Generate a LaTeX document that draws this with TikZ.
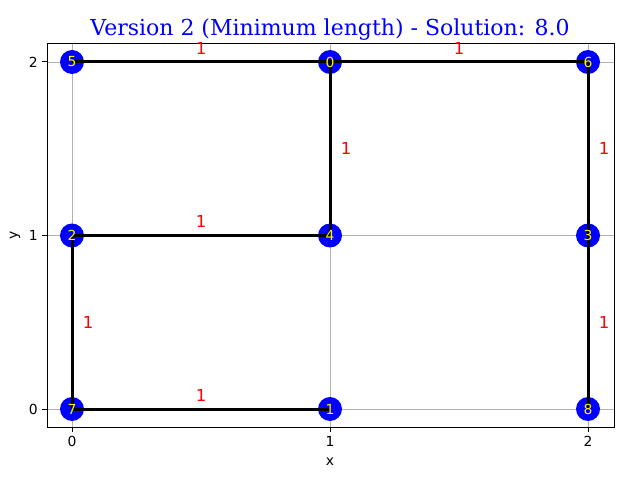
\documentclass[tikz,border=0pt]{standalone}
\usepackage{fontspec}
\setmainfont{DejaVu Sans}
\newfontfamily\titlefont{DejaVu Serif}

\begin{document}
\begin{tikzpicture}[x=1pt,y=1pt,
  vertex/.style={circle,fill=blue,minimum size=24pt,inner sep=0pt},
  vlabel/.style={text=yellow,inner sep=0pt,font=\fontsize{13.9}{13.9}\selectfont},
  wlabel/.style={text=red,inner sep=0pt,font=\fontsize{16.5}{16.5}\selectfont},
  edge/.style={line width=3pt},
  ticklabel/.style={inner sep=0pt,font=\fontsize{13.9}{13.9}\selectfont}]
  \useasboundingbox (0,0) rectangle (640,480);

  % grid, frame and ticks
  \begin{scope}[gray!60,line width=0.8pt]
  \foreach \px in {72,330,588} \draw (\px,53) -- (\px,436);
  \foreach \py in {71,244.5,418} \draw (47,\py) -- (614,\py);
  \end{scope}
  \draw[line width=1pt] (47,53) rectangle (614,436);
  \foreach \px/\t in {72/0,330/1,588/2} {
    \draw[line width=1pt] (\px,53) -- (\px,48);
    \node[ticklabel,anchor=north] (xt\t) at (\px,44) {\t};
  }
  \foreach \py/\t in {71/0,244.5/1,418/2} {
    \draw[line width=1pt] (47,\py) -- (42,\py);
    \node[ticklabel,anchor=east] (yt\t) at (38,\py) {\t};
  }
  \node[ticklabel] (xlab) at (330,18) {x};
  \node[ticklabel,rotate=90] (ylab) at (15,244.5) {y};
  \node[text=blue,font=\titlefont\fontsize{22}{22}\selectfont] (title) at (330,450)
    {Version 2 (Minimum length) - Solution: 8.0};

  \begin{scope}[shift={(72,71)},x=258pt,y=173.5pt]
  \foreach \v/\p in {0/{(1,2)},1/{(1,0)},2/{(0,1)},3/{(2,1)},4/{(1,1)},
                     5/{(0,2)},6/{(2,2)},7/{(0,0)},8/{(2,0)}}
    \node[vertex] (v\v) at \p {};

  \draw[edge] (v5.center) -- node[wlabel,yshift=14pt] (w50) {1} (v0.center);
  \draw[edge] (v0.center) -- node[wlabel,yshift=14pt] (w06) {1} (v6.center);
  \draw[edge] (v2.center) -- node[wlabel,yshift=14pt] (w24) {1} (v4.center);
  \draw[edge] (v7.center) -- node[wlabel,yshift=14pt] (w71) {1} (v1.center);
  \draw[edge] (v0.center) -- node[wlabel,xshift=16pt] (w04) {1} (v4.center);
  \draw[edge] (v6.center) -- node[wlabel,xshift=16pt] (w63) {1} (v3.center);
  \draw[edge] (v3.center) -- node[wlabel,xshift=16pt] (w38) {1} (v8.center);
  \draw[edge] (v2.center) -- node[wlabel,xshift=16pt] (w27) {1} (v7.center);

  \foreach \v in {0,...,8}
    \node[vlabel] (l\v) at (v\v) {\v};
  \end{scope}
\end{tikzpicture}
\end{document}
